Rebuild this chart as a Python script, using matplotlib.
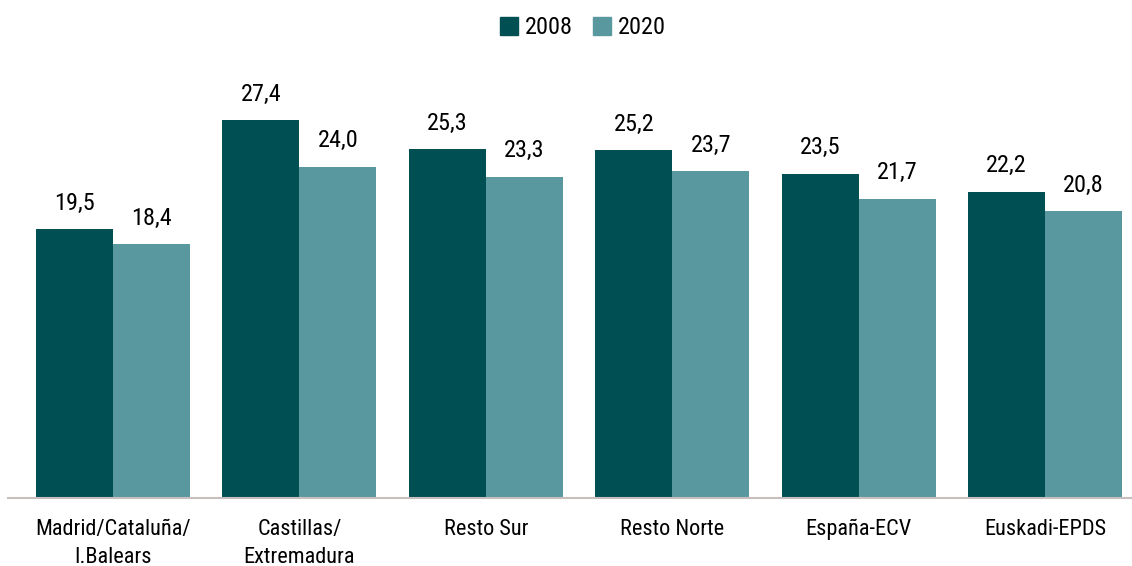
import numpy as np
import matplotlib.pyplot as plt
from matplotlib.patches import Patch

regiones = ['Madrid/Cataluña/\nI.Balears', 'Castillas/\nExtremadura', 'Resto Sur',
            'Resto Norte', 'España-ECV', 'Euskadi-EPDS']
v2008 = [19.5, 27.4, 25.3, 25.2, 23.5, 22.2]
v2020 = [18.4, 24.0, 23.3, 23.7, 21.7, 20.8]

oscuro = '#004f53'
claro = '#5a98a0'

plt.rcParams['font.family'] = ['Roboto Condensed', 'Archivo Narrow', 'Liberation Sans Narrow', 'DejaVu Sans']

W, H = 1132, 566
fig = plt.figure(figsize=(W / 100, H / 100), dpi=100)
# eje en pixeles: izquierda 8, base 498, arriba 60
ax = fig.add_axes([8 / W, (H - 498) / H, (1132 - 8) / W, (498 - 60) / H])

x = np.arange(len(regiones))
w = 0.413
b1 = ax.bar(x - w / 2, v2008, w, color=oscuro)
b2 = ax.bar(x + w / 2, v2020, w, color=claro)

for bars in (b1, b2):
    for r in bars:
        ax.annotate(f'{r.get_height():.1f}'.replace('.', ','),
                    (r.get_x() + r.get_width() / 2, r.get_height()),
                    xytext=(0, 14), textcoords='offset points',
                    ha='center', va='baseline', fontsize=17.5)

ax.set_xlim(-0.563, len(regiones) - 1 + 0.466)
ax.set_ylim(0, (498 - 60) / (378 / 27.4))
ax.set_xticks(x)
ax.set_xticklabels(regiones, fontsize=16, linespacing=1.45)
ax.tick_params(axis='x', length=0, pad=15)
ax.set_yticks([])
for s in ['top', 'right', 'left']:
    ax.spines[s].set_visible(False)
ax.spines['bottom'].set_color('#c8bebe')
ax.spines['bottom'].set_linewidth(1.5)

fig.legend(handles=[Patch(color=oscuro, label='2008'), Patch(color=claro, label='2020')],
           loc='center', bbox_to_anchor=(583 / W, 1 - 28 / H), ncol=2, frameon=False,
           fontsize=17.5, handlelength=0.75, handleheight=0.75, handletextpad=0.3,
           columnspacing=0.8)

fig.savefig('out.png', dpi=100)
